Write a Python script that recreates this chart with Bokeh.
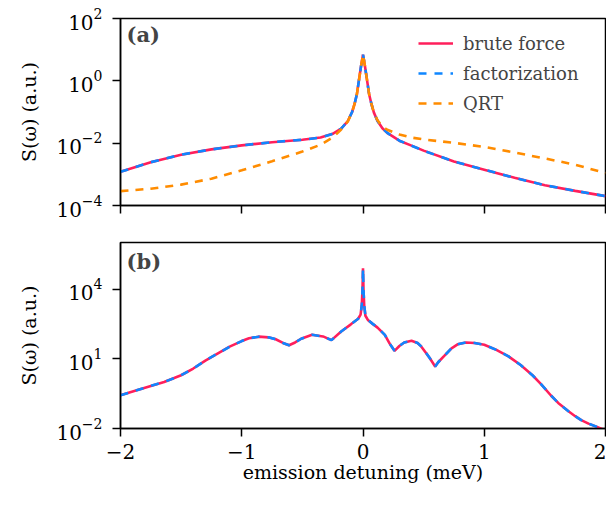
import numpy as np
from bokeh.plotting import figure
from bokeh.layouts import column
from bokeh.models import (FixedTicker, Legend, LegendItem, Label, Range1d,
                          CustomJSTickFormatter)
from bokeh.embed import file_html
from bokeh.resources import INLINE

# ---------------- data ----------------
# panel (a): values given as log10 of S(omega)
x_a = [-2.0, -1.75, -1.5, -1.25, -1.0, -0.75, -0.5, -0.35, -0.25, -0.18,
       -0.125, -0.09, -0.07, -0.05, -0.03, -0.015, 0.0, 0.015, 0.03, 0.05,
       0.07, 0.09, 0.12, 0.16, 0.2, 0.3, 0.4, 0.5, 0.75, 1.0, 1.25, 1.5,
       1.75, 2.0]
brute_a_log10 = [-2.92, -2.61, -2.37, -2.20, -2.07, -1.97, -1.89, -1.82,
                 -1.70, -1.53, -1.29, -1.00, -0.75, -0.42, 0.11, 0.50, 0.84,
                 0.50, 0.11, -0.42, -0.75, -1.02, -1.29, -1.52, -1.67, -1.92,
                 -2.08, -2.24, -2.59, -2.85, -3.11, -3.35, -3.53, -3.70]
fact_a_log10 = [-2.92, -2.61, -2.37, -2.20, -2.07, -1.97, -1.89, -1.82,
                -1.70, -1.53, -1.29, -1.00, -0.75, -0.42, 0.11, 0.50, 0.84,
                0.50, 0.11, -0.42, -0.75, -1.02, -1.29, -1.52, -1.67, -1.92,
                -2.08, -2.24, -2.59, -2.85, -3.11, -3.35, -3.53, -3.70]
qrt_a_log10 = [-3.54, -3.46, -3.33, -3.14, -2.87, -2.58, -2.27, -2.05,
               -1.82, -1.56, -1.30, -1.00, -0.75, -0.42, 0.11, 0.50, 0.84,
               0.50, 0.11, -0.42, -0.75, -1.02, -1.27, -1.47, -1.57, -1.72,
               -1.82, -1.88, -1.99, -2.12, -2.30, -2.49, -2.69, -2.96]

# panel (b): values given as log10 of S(omega)
x_b = [-2.0, -1.9, -1.75, -1.64, -1.5, -1.4, -1.3, -1.2, -1.1, -1.0, -0.94,
       -0.86, -0.78, -0.72, -0.66, -0.61, -0.56, -0.51, -0.42, -0.33, -0.26,
       -0.18, -0.10, -0.04, -0.02, -0.01, -0.004, 0.0, 0.004, 0.01, 0.02,
       0.04, 0.08, 0.12, 0.18, 0.22, 0.26, 0.30, 0.34, 0.40, 0.45, 0.48,
       0.52, 0.55, 0.595, 0.62, 0.67, 0.73, 0.78, 0.85, 0.92, 1.0, 1.1, 1.2,
       1.3, 1.4, 1.47, 1.55, 1.61, 1.7, 1.75, 1.8, 1.86, 1.93, 2.0]
brute_b_log10 = [-0.57, -0.41, -0.17, 0.0, 0.29, 0.58, 0.92, 1.22, 1.52,
                 1.76, 1.88, 1.95, 1.92, 1.84, 1.68, 1.58, 1.70, 1.86, 2.03,
                 1.96, 1.80, 2.17, 2.48, 2.72, 2.90, 3.30, 4.0, 4.89, 4.0,
                 3.3, 2.85, 2.67, 2.50, 2.34, 2.03, 1.65, 1.34, 1.55, 1.70,
                 1.77, 1.68, 1.53, 1.25, 1.03, 0.67, 0.85, 1.12, 1.45, 1.62,
                 1.70, 1.68, 1.60, 1.38, 1.10, 0.73, 0.28, -0.10, -0.58,
                 -0.90, -1.28, -1.47, -1.64, -1.79, -1.93, -2.08]
fact_b_log10 = list(brute_b_log10)

x_ticks = [-2, -1, 0, 1, 2]
y_ticks_a = [1e-4, 1e-2, 1e0, 1e2]
y_ticks_b = [1e-2, 1e1, 1e4]
legend_labels = ["brute force", "factorization", "QRT"]

RED = "#FF1F5B"
BLUE = "#0F86FF"
ORANGE = "#FF8C00"
FONT = "DejaVu Serif"


def style(p, yticks):
    p.xaxis.ticker = FixedTicker(ticks=x_ticks, minor_ticks=[])
    p.yaxis.ticker = FixedTicker(ticks=yticks, minor_ticks=[])
    for ax in (p.xaxis, p.yaxis):
        ax.axis_line_width = 1.5
        ax.axis_line_color = "black"
        ax.major_tick_line_width = 1.5
        ax.major_tick_line_color = "black"
        ax.major_tick_out = 8
        ax.major_tick_in = 0
        ax.minor_tick_line_color = None
        ax.major_label_text_font = FONT
        ax.major_label_text_font_size = "20px"
        ax.major_label_text_color = "black"
        ax.axis_label_text_font = FONT
        ax.axis_label_text_font_size = "19px"
        ax.axis_label_text_font_style = "normal"
        ax.axis_label_text_color = "black"
    p.yaxis.major_label_standoff = 10
    p.xaxis.major_label_standoff = 7
    p.yaxis.axis_label_standoff = 13
    p.grid.visible = False
    p.outline_line_color = "black"
    p.outline_line_width = 1.5
    p.outline_line_alpha = 1.0
    p.background_fill_color = "white"
    p.border_fill_color = "white"


# ---------------- panel (a) ----------------
p1 = figure(width=606, height=232, y_axis_type="log",
            x_range=Range1d(-2, 2), y_range=Range1d(1e-4, 1e2),
            output_backend="svg", toolbar_location=None,
            min_border_left=120, min_border_right=1, min_border_top=18,
            min_border_bottom=27)
style(p1, y_ticks_a)
p1.xaxis.formatter = CustomJSTickFormatter(code="return ''")
p1.yaxis.axis_label = "S(ω) (a.u.)"

r_b = p1.line(x_a, 10.0 ** np.array(brute_a_log10), line_color=RED, line_width=2.6)
r_f = p1.line(x_a, 10.0 ** np.array(fact_a_log10), line_color=BLUE, line_width=2.6,
              line_dash="8 8")
r_q = p1.line(x_a, 10.0 ** np.array(qrt_a_log10), line_color=ORANGE, line_width=2.6,
              line_dash="8 7")

legend = Legend(items=[LegendItem(label=legend_labels[0], renderers=[r_b]),
                       LegendItem(label=legend_labels[1], renderers=[r_f]),
                       LegendItem(label=legend_labels[2], renderers=[r_q])],
                location=(298, 91), padding=0, margin=0,
                glyph_width=35, glyph_height=22, label_height=22,
                label_standoff=10, spacing=8,
                border_line_color=None, background_fill_alpha=0.0,
                label_text_font=FONT, label_text_font_size="18px")
p1.add_layout(legend)

p1.add_layout(Label(x=-1.95, y=30.0, text="(a)", text_font=FONT,
                    text_font_size="21px", text_font_style="bold",
                    text_baseline="middle"))

# ---------------- panel (b) ----------------
p2 = figure(width=606, height=268, y_axis_type="log",
            x_range=Range1d(-2, 2), y_range=Range1d(1e-2, 1e6),
            output_backend="svg", toolbar_location=None,
            min_border_left=120, min_border_right=1, min_border_top=10,
            min_border_bottom=72)
style(p2, y_ticks_b)
p2.xaxis.axis_label = "emission detuning (meV)"
p2.yaxis.axis_label = "S(ω) (a.u.)"
p2.xaxis.axis_label_standoff = -1

p2.line(x_b, 10.0 ** np.array(brute_b_log10), line_color=RED, line_width=2.6)
p2.line(x_b, 10.0 ** np.array(fact_b_log10), line_color=BLUE, line_width=2.6,
        line_dash="8 8")

p2.add_layout(Label(x=-1.95, y=1.6e5, text="(b)", text_font=FONT,
                    text_font_size="21px", text_font_style="bold",
                    text_baseline="middle"))

layout = column(p1, p2, spacing=0)
open("out.html", "w").write(file_html(layout, INLINE))
